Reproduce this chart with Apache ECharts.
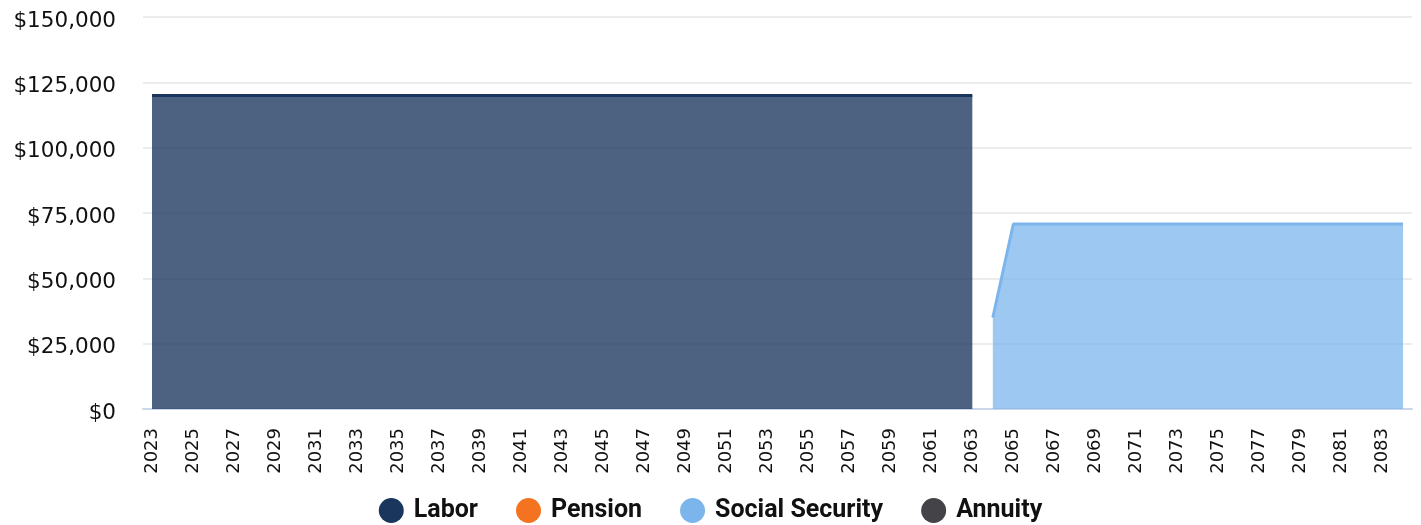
<!DOCTYPE html>
<html>
<head>
<meta charset="utf-8">
<script src="https://cdn.jsdelivr.net/npm/echarts@6/dist/echarts.min.js"></script>
<style>
  html, body { margin: 0; padding: 0; background: #fff; }
  #chart { width: 1421px; height: 525px; }
</style>
</head>
<body>
<div id="chart"></div>
<script>
const years = [
  2023, 2024, 2025, 2026, 2027, 2028, 2029, 2030, 2031, 2032,
  2033, 2034, 2035, 2036, 2037, 2038, 2039, 2040, 2041, 2042,
  2043, 2044, 2045, 2046, 2047, 2048, 2049, 2050, 2051, 2052,
  2053, 2054, 2055, 2056, 2057, 2058, 2059, 2060, 2061, 2062,
  2063, 2064, 2065, 2066, 2067, 2068, 2069, 2070, 2071, 2072,
  2073, 2074, 2075, 2076, 2077, 2078, 2079, 2080, 2081, 2082,
  2083, 2084
]
const labor = [
  120000, 120000, 120000, 120000, 120000, 120000, 120000, 120000, 120000, 120000,
  120000, 120000, 120000, 120000, 120000, 120000, 120000, 120000, 120000, 120000,
  120000, 120000, 120000, 120000, 120000, 120000, 120000, 120000, 120000, 120000,
  120000, 120000, 120000, 120000, 120000, 120000, 120000, 120000, 120000, 120000,
  120000, null, null, null, null, null, null, null, null, null,
  null, null, null, null, null, null, null, null, null, null,
  null, null
]
const pension = []
const socialSecurity = [
  null, null, null, null, null, null, null, null, null, null,
  null, null, null, null, null, null, null, null, null, null,
  null, null, null, null, null, null, null, null, null, null,
  null, null, null, null, null, null, null, null, null, null,
  null, 35000, 70800, 70800, 70800, 70800, 70800, 70800, 70800, 70800,
  70800, 70800, 70800, 70800, 70800, 70800, 70800, 70800, 70800, 70800,
  70800, 70800
]
const annuity = []
const yTicks = [0, 25000, 50000, 75000, 100000, 125000, 150000]

const yMin = yTicks[0]
const yMax = yTicks[yTicks.length - 1]
const yStep = yTicks[1] - yTicks[0]

const chart = echarts.init(document.getElementById('chart'))

function areaSeries (name, data, color, opacity) {
  return {
    name: name,
    type: 'line',
    xAxisIndex: 1,
    yAxisIndex: 1,
    data: data,
    showSymbol: false,
    connectNulls: false,
    itemStyle: { color: color },
    lineStyle: { color: color, width: 3 },
    areaStyle: { color: color, opacity: opacity },
    emphasis: { disabled: true }
  }
}

const hidden = {
  axisLine: { show: false },
  axisTick: { show: false },
  axisLabel: { show: false },
  splitLine: { show: false }
}

chart.setOption({
  animation: false,
  grid: [
    // background grid: gridlines and the x axis line
    { left: 143, right: 9, top: 17, bottom: 116 },
    // plot grid: the series and the year labels
    { left: 152, right: 18, top: 17, bottom: 116 },
    // dollar labels, nudged a bit below their gridlines
    { left: 143, right: 9, top: 21, bottom: 112 }
  ],
  legend: {
    top: 493,
    left: 'center',
    icon: 'circle',
    itemWidth: 25,
    itemHeight: 25,
    itemGap: 38,
    textStyle: {
      fontFamily: 'Roboto',
      fontWeight: 'bold',
      fontSize: 25,
      color: '#111',
      padding: [0, 0, 0, 5]
    },
    data: ['Labor', 'Pension', 'Social Security', 'Annuity']
  },
  xAxis: [
    {
      gridIndex: 0,
      type: 'value',
      min: 0,
      max: 1,
      ...hidden,
      axisLine: { show: true, lineStyle: { color: '#ccd6eb', width: 2 } }
    },
    {
      gridIndex: 1,
      type: 'category',
      boundaryGap: false,
      data: years,
      axisLine: { show: false },
      axisTick: { show: false },
      splitLine: { show: false },
      axisLabel: {
        interval: 1,
        rotate: 90,
        margin: 19,
        fontFamily: 'DejaVu Sans',
        fontSize: 18,
        color: '#111'
      }
    },
    { gridIndex: 2, type: 'value', min: 0, max: 1, ...hidden }
  ],
  yAxis: [
    {
      gridIndex: 0,
      type: 'value',
      min: yMin,
      max: yMax,
      interval: yStep,
      ...hidden,
      splitLine: { show: true, lineStyle: { color: '#e6e6e6', width: 1.5 } }
    },
    { gridIndex: 1, type: 'value', min: yMin, max: yMax, interval: yStep, ...hidden },
    {
      gridIndex: 2,
      type: 'value',
      min: yMin,
      max: yMax,
      interval: yStep,
      ...hidden,
      axisLabel: {
        show: true,
        margin: 27,
        fontFamily: 'DejaVu Sans',
        fontSize: 21.5,
        color: '#111',
        formatter: v => '$' + v.toLocaleString('en-US')
      }
    }
  ],
  series: [
    areaSeries('Labor', labor, '#1b365d', 0.78),
    areaSeries('Pension', pension, '#f47321', 0.75),
    areaSeries('Social Security', socialSecurity, '#7cb5ec', 0.75),
    areaSeries('Annuity', annuity, '#434348', 0.75)
  ]
})
</script>
</body>
</html>
